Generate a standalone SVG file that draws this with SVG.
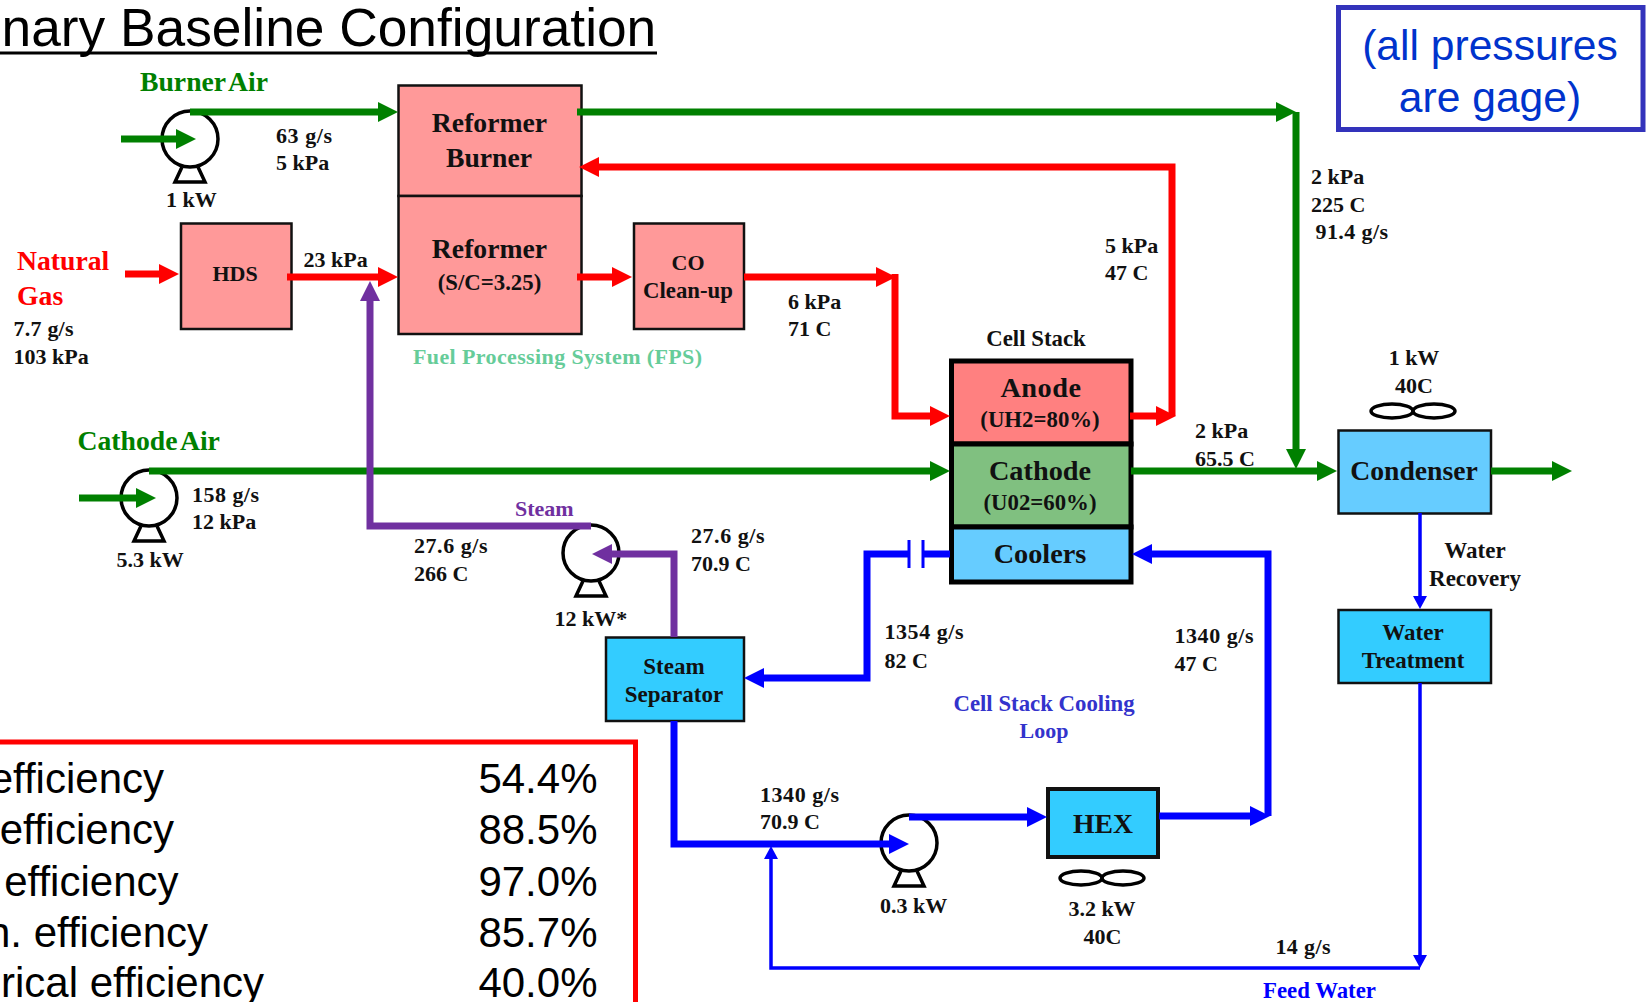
<svg xmlns="http://www.w3.org/2000/svg" width="1647" height="1002" viewBox="0 0 1647 1002">
<style>
text{font-family:"Liberation Serif","Times New Roman",serif;font-weight:bold;font-size:22px;fill:#111}
.w{font-size:23px}
.f{font-size:22.800px}
.l{font-size:27.700px}
.x{font-size:28.300px}
.m{text-anchor:middle}
.e{text-anchor:end}
.a{font-family:"Liberation Sans",Arial,sans-serif;font-weight:normal}
.t{font-size:53.300px;fill:#000}
.s{font-size:42px;fill:#000}
.n{font-size:42.600px;fill:#0033cc}
.box{stroke:#111;stroke-width:2.5}
.pump{fill:none;stroke:#000;stroke-width:3.5}
.c{fill:none;stroke-width:7}
.thin{fill:none;stroke-width:3.5}
.g{stroke:#008000}.r{stroke:#ff0000}.b{stroke:#0000ff}.p{stroke:#7030a0}
</style>
<defs>
<marker id="hg" markerUnits="userSpaceOnUse" markerWidth="21" markerHeight="20" refX="0" refY="10" orient="auto"><path d="M0 0L20 10L0 20Z" fill="#008000"/></marker>
<marker id="hr" markerUnits="userSpaceOnUse" markerWidth="21" markerHeight="20" refX="0" refY="10" orient="auto"><path d="M0 0L20 10L0 20Z" fill="#ff0000"/></marker>
<marker id="hb" markerUnits="userSpaceOnUse" markerWidth="21" markerHeight="20" refX="0" refY="10" orient="auto"><path d="M0 0L20 10L0 20Z" fill="#0000ff"/></marker>
<marker id="hp" markerUnits="userSpaceOnUse" markerWidth="21" markerHeight="20" refX="0" refY="10" orient="auto"><path d="M0 0L20 10L0 20Z" fill="#7030a0"/></marker>
<marker id="hs" markerUnits="userSpaceOnUse" markerWidth="14" markerHeight="14" refX="0" refY="7" orient="auto"><path d="M0 0L13 7L0 14Z" fill="#0000ff"/></marker>
<g id="pumpShape"><circle r="28" class="pump"/><path d="M-8 28L-15 43H15L8 28" class="pump"/></g>
<g id="fanShape"><ellipse cx="-21" rx="21" ry="7" class="pump"/><ellipse cx="21" rx="21" ry="7" class="pump"/></g>
</defs>
<rect width="1647" height="1002" fill="#fff"/>

<g id="title">
<text class="a t" x="1.500" y="46">nary Baseline Configuration</text>
<path d="M0 53H657" stroke="#000" stroke-width="3" fill="none"/>
</g>
<g id="note">
<rect x="1338.500" y="7.500" width="304.500" height="122" fill="#fff" stroke="#3333bb" stroke-width="5"/>
<text class="a n m" x="1490" y="59.500">(all pressures</text>
<text class="a n m" x="1490" y="111.500">are gage)</text>
</g>
<g id="summary">
<path d="M-5 742H635.500V1010" fill="none" stroke="#ff0000" stroke-width="5"/>
<text class="a s e" x="164" y="793">efficiency</text>
<text class="a s e" x="174" y="844">efficiency</text>
<text class="a s e" x="178.500" y="896">efficiency</text>
<text class="a s e" x="208" y="947">n. efficiency</text>
<text class="a s e" x="264" y="997">rical efficiency</text>
<text class="a s e" x="597.500" y="793">54.4%</text>
<text class="a s e" x="597.500" y="844">88.5%</text>
<text class="a s e" x="597.500" y="896">97.0%</text>
<text class="a s e" x="597.500" y="947">85.7%</text>
<text class="a s e" x="597.500" y="997">40.0%</text>
</g>

<g id="reformer-burner">
<rect class="box" x="398.500" y="85.500" width="183" height="110.500" fill="#ff9999"/>
<text class="l m" x="489.500" y="132">Reformer</text>
<text class="l m" x="489" y="167">Burner</text>
</g>
<g id="reformer">
<rect class="box" x="398.500" y="196" width="183" height="138" fill="#ff9999"/>
<text class="l m" x="489.500" y="258">Reformer</text>
<text class="f m" x="489.500" y="290">(S/C=3.25)</text>
</g>
<g id="hds">
<rect class="box" x="181" y="223.500" width="110.500" height="105.500" fill="#ff9999"/>
<text class="m" x="235" y="281">HDS</text>
</g>
<g id="co-cleanup">
<rect class="box" x="634" y="223.500" width="110" height="105.500" fill="#ff9999"/>
<text class="m" x="688" y="270">CO</text>
<text class="f m" x="688" y="298">Clean-up</text>
</g>
<g id="cell-stack">
<text class="f m" x="1036" y="346">Cell Stack</text>
<rect x="951.500" y="361" width="179.500" height="83" fill="#ff8080" stroke="#000" stroke-width="5"/>
<rect x="951.500" y="444" width="179.500" height="83" fill="#80c080" stroke="#000" stroke-width="5"/>
<rect x="951.500" y="527" width="179.500" height="55" fill="#66ccff" stroke="#000" stroke-width="5"/>
<text class="x m" x="1041" y="397" letter-spacing="0.500">Anode</text>
<text class="f m" x="1040" y="427">(UH2=80%)</text>
<text class="x m" x="1040" y="480">Cathode</text>
<text class="f m" x="1040" y="510">(U02=60%)</text>
<text class="x m" x="1040" y="563">Coolers</text>
</g>
<g id="condenser">
<rect class="box" x="1338.500" y="430.500" width="152.500" height="83" fill="#66ccff"/>
<text class="l m" x="1414" y="479.500">Condenser</text>
<use href="#fanShape" x="1413" y="411"/>
<text class="m" x="1414" y="365">1 kW</text>
<text class="m" x="1414" y="393">40C</text>
</g>
<g id="water-treatment">
<rect class="box" x="1338.500" y="610" width="152.500" height="73" fill="#33ccff"/>
<text class="w m" x="1413" y="640">Water</text>
<text class="w m" x="1413" y="668">Treatment</text>
</g>
<g id="steam-separator">
<rect class="box" x="606" y="637.500" width="138" height="83.500" fill="#33ccff"/>
<text class="w m" x="674" y="673.500">Steam</text>
<text class="w m" x="674" y="701.500">Separator</text>
</g>
<g id="hex">
<rect x="1048" y="789" width="110" height="68" fill="#33ccff" stroke="#111" stroke-width="4"/>
<text class="l m" x="1103" y="833">HEX</text>
<use href="#fanShape" x="1102" y="878"/>
<text class="m" x="1102" y="916">3.2 kW</text>
<text class="m" x="1102.500" y="944">40C</text>
</g>
<g id="pump-burner-air">
<use href="#pumpShape" x="190" y="139"/>
<text x="166" y="207">1 kW</text>
</g>
<g id="pump-cathode-air">
<use href="#pumpShape" x="149" y="498"/>
<text x="116.500" y="567">5.3 kW</text>
</g>
<g id="pump-steam">
<use href="#pumpShape" x="591" y="553"/>
<text x="554.500" y="626">12 kW*</text>
</g>
<g id="pump-coolant">
<use href="#pumpShape" x="909" y="843"/>
<text x="880" y="913">0.3 kW</text>
</g>

<g id="connectors">
<path class="c g" d="M121 139H176" marker-end="url(#hg)"/>
<path class="c g" d="M190 112H378" marker-end="url(#hg)"/>
<path class="c g" d="M577 112H1276" marker-end="url(#hg)"/>
<path class="c g" d="M1296 112V449" marker-end="url(#hg)"/>
<path class="c g" d="M79 498H136" marker-end="url(#hg)"/>
<path class="c g" d="M149 471H930" marker-end="url(#hg)"/>
<path class="c g" d="M1131 471H1317" marker-end="url(#hg)"/>
<path class="c g" d="M1491 471H1552" marker-end="url(#hg)"/>
<path class="c r" d="M125 274H159" marker-end="url(#hr)"/>
<path class="c r" d="M287 277H378" marker-end="url(#hr)"/>
<path class="c r" d="M577 277H612" marker-end="url(#hr)"/>
<path class="c r" d="M744 277H876" marker-end="url(#hr)"/>
<path class="c r" d="M895 274V416H930" marker-end="url(#hr)"/>
<path class="c r" d="M1130 416H1156" marker-end="url(#hr)"/>
<path class="c r" d="M1172 416V167H599" marker-end="url(#hr)"/>
<path class="c p" d="M591 526H370V301" marker-end="url(#hp)"/>
<path class="c p" d="M674 637V554H612" marker-end="url(#hp)"/>
<path class="c b" d="M674 721V844H889" marker-end="url(#hb)"/>
<path class="c b" d="M909 817H1027" marker-end="url(#hb)"/>
<path class="c b" d="M1159 816H1250" marker-end="url(#hb)"/>
<path class="c b" d="M1268 816V554H1152" marker-end="url(#hb)"/>
<path class="c b" d="M950 554H924M909 554H867V678H764" marker-end="url(#hb)"/>
<path d="M909 540V568M923 540V568" fill="none" stroke="#0000ff" stroke-width="3"/>
<path class="thin b" d="M1420 513V596" marker-end="url(#hs)"/>
<path class="thin b" d="M1420 683V955"  marker-end="url(#hs)"/>
<path class="thin b" d="M1420 968H771V859" marker-end="url(#hs)"/>
</g>

<g id="labels">
<text class="l" x="140" y="91" word-spacing="-3" style="fill:#008000">Burner Air</text>
<text class="l" x="77.500" y="450" word-spacing="-3" style="fill:#008000">Cathode Air</text>
<text class="l" x="17" y="269.500" style="fill:#ff0000">Natural</text>
<text class="l" x="17" y="305" style="fill:#ff0000">Gas</text>
<text x="13.500" y="336" textLength="60">7.7 g/s</text>
<text x="13.500" y="364">103 kPa</text>
<text x="276" y="143" textLength="56">63 g/s</text>
<text x="276" y="170">5 kPa</text>
<text x="303.500" y="267">23 kPa</text>
<text x="413" y="364" style="fill:#66cc99" textLength="289">Fuel Processing  System (FPS)</text>
<text x="1105" y="253">5 kPa</text>
<text x="1105" y="280">47 C</text>
<text x="788" y="309">6 kPa</text>
<text x="788" y="336">71 C</text>
<text x="1311" y="184">2 kPa</text>
<text x="1311" y="212">225 C</text>
<text x="1315.500" y="239" textLength="72.500">91.4 g/s</text>
<text x="1195" y="438">2 kPa</text>
<text x="1195" y="466">65.5 C</text>
<text x="192" y="502" textLength="67">158 g/s</text>
<text x="192" y="529">12 kPa</text>
<text x="515" y="516" style="fill:#7030a0">Steam</text>
<text x="414" y="553" textLength="73.500">27.6 g/s</text>
<text x="414" y="581">266 C</text>
<text x="691" y="543" textLength="73.500">27.6 g/s</text>
<text x="691" y="571">70.9 C</text>
<text x="884.500" y="639" textLength="79">1354 g/s</text>
<text x="884.500" y="668">82 C</text>
<text x="1174.500" y="643" textLength="79">1340 g/s</text>
<text x="1174.500" y="671">47 C</text>
<text class="f m" x="1044" y="711" style="fill:#3333cc">Cell Stack Cooling</text>
<text class="m" x="1044" y="738" style="fill:#3333cc">Loop</text>
<text class="w m" x="1475" y="557.500">Water</text>
<text class="w m" x="1475" y="585.500">Recovery</text>
<text x="760" y="802" textLength="79">1340 g/s</text>
<text x="760" y="829">70.9 C</text>
<text x="1275.500" y="954" textLength="55">14 g/s</text>
<text class="f" x="1263" y="998" style="fill:#0000ff">Feed Water</text>
</g>
</svg>
